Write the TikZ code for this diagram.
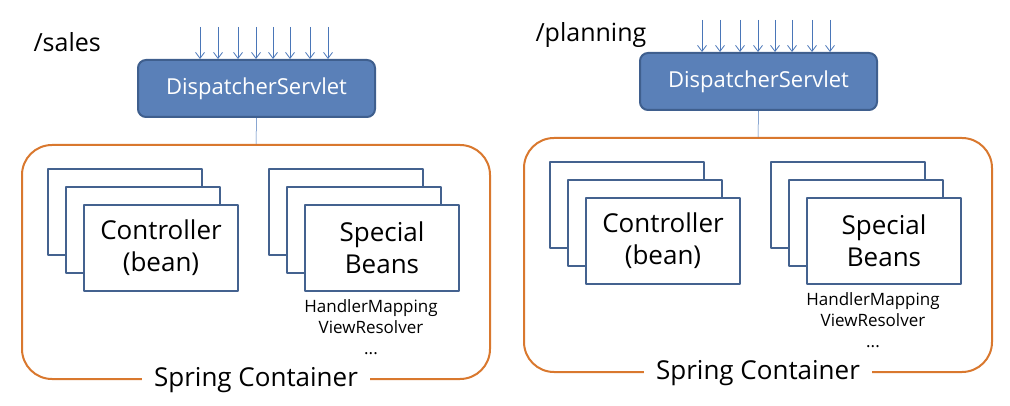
\documentclass[tikz,border=0pt]{standalone}
\usepackage{fontspec}
\setmainfont{Open Sans}
\usetikzlibrary{arrows.meta,positioning}
\definecolor{dsfill}{HTML}{5A80B8}
\definecolor{dsedge}{HTML}{3F5F8E}
\definecolor{cardedge}{HTML}{44628F}
\definecolor{ctorange}{HTML}{D9782E}
\definecolor{reqblue}{HTML}{4A76B8}
\begin{document}
\begin{tikzpicture}[x=1pt,y=-1pt,>={Straight Barb[length=6pt,width=9pt]},line join=round,
	ds/.style={draw=dsedge,line width=2pt,fill=dsfill,rounded corners=8pt,minimum width=237pt,minimum height=57pt,
		text=white,font=\fontsize{22}{26}\selectfont},
	cont/.style={draw=ctorange,line width=2pt,rounded corners=30pt,minimum width=468pt,minimum height=234pt},
	card/.style={draw=cardedge,line width=2pt,fill=white,minimum width=154pt,minimum height=86pt,anchor=north west},
	cardtext/.style={align=center,font=\fontsize{26}{32}\selectfont},
	req/.style={draw=reqblue,line width=0.8pt}]
	\useasboundingbox (0,0) rectangle (1010,406);

	\foreach \p/\lbl/\dx/\dy in {A/sales/0/0,B/planning/502/-7}{
		\begin{scope}[shift={(\dx,\dy)}]
			\node[anchor=west,font=\fontsize{25}{28}\selectfont] (url\p) at (30,42) {/\lbl};
			\node[ds] (ds\p) at (256.5,88.5) {DispatcherServlet};
			\foreach \d in {200,218,238,256,273,290,310,328}
				\draw[req,->] (\d,27) -- (ds\p.north -| \d,0);
			\node[cont] (cont\p) at (256,262) {};
			\draw[req,line width=0.5pt] (ds\p.south) -- (cont\p.north);

			% controller and special bean stacks
			\node[card] (ctl\p0) at (47,168) {};
			\node[card] (ctl\p1) at (65,186) {};
			\node[card,cardtext] (ctl\p2) at (83,204) {Controller\\(bean)};
			\node[card] (spc\p0) at (268,168) {};
			\node[card] (spc\p1) at (286,186) {};
			\node[card,cardtext] (spc\p2) at (304,204) {Special\\Beans};
			\node[below=4pt of spc\p2.south,xshift=-11pt,align=center,font=\fontsize{17}{21}\selectfont] (ext\p) {HandlerMapping\\ViewResolver\\...};

			\node[fill=white,inner xsep=12pt,font=\fontsize{26}{30}\selectfont] (lbl\p) at (cont\p.south) {Spring Container};
		\end{scope}
	}
\end{tikzpicture}
\end{document}
